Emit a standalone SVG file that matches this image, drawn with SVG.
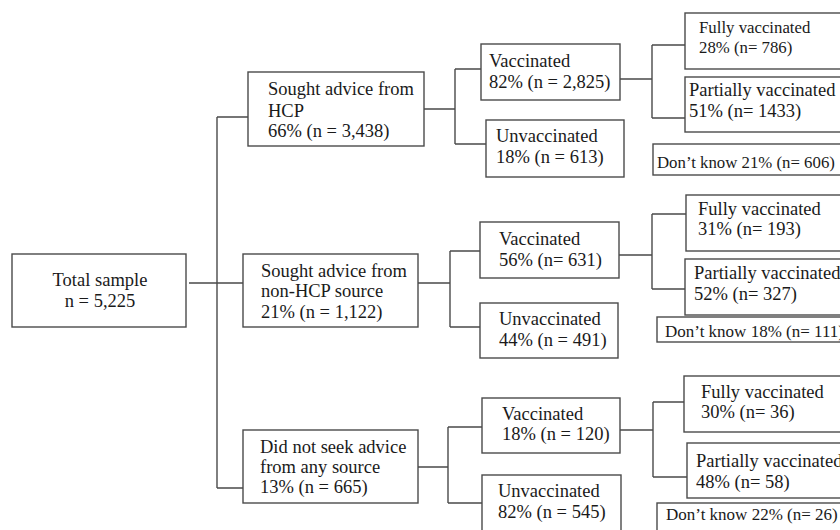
<svg xmlns="http://www.w3.org/2000/svg" width="840" height="530" viewBox="0 0 840 530">
<style>
.box{fill:#fff;stroke:#4a4a4a;stroke-width:1.4}
.ln{fill:none;stroke:#4a4a4a;stroke-width:1.4}
text{font-family:"Liberation Serif","Times New Roman",serif;font-size:18.5px;fill:#1a1a1a}
.s{font-size:16.8px}
.m{font-size:17px}
</style>
<rect width="840" height="530" fill="#fff"/>
<g id="connectors">
<path class="ln" d="M189 283H243M217 117V488M217 117H248M217 488H243"/>
<path class="ln" d="M424 109H455M455 69V144M455 69H481M455 144H486"/>
<path class="ln" d="M620 79H652M652 45V118M652 45H685M652 118H685"/>
<path class="ln" d="M418 283H450M450 251V327M450 251H480M450 327H480"/>
<path class="ln" d="M619 255H652M652 214V289M652 214H686M652 289H685"/>
<path class="ln" d="M418 467H448M448 427V503M448 427H482M448 503H482"/>
<path class="ln" d="M620 430H653M653 402V477M653 402H684M653 477H687"/>
</g>
<g id="total"><rect class="box" x="12" y="254" width="174" height="73"/><text x="100" y="286" text-anchor="middle">Total sample</text><text x="100" y="307" text-anchor="middle">n = 5,225</text></g>
<g id="hcp"><rect class="box" x="248" y="72" width="176" height="74"/><text x="268" y="95">Sought advice from</text><text x="268" y="117">HCP</text><text x="268" y="137">66% (n = 3,438)</text></g>
<g id="nonhcp"><rect class="box" x="243" y="254" width="175" height="73"/><text x="261" y="277">Sought advice from</text><text x="261" y="297">non-HCP source</text><text x="261" y="318">21% (n = 1,122)</text></g>
<g id="none"><rect class="box" x="243" y="430" width="175" height="73"/><text x="260" y="453">Did not seek advice</text><text x="260" y="473">from any source</text><text x="260" y="493">13% (n = 665)</text></g>
<g id="hcp-vacc"><rect class="box" x="481" y="44" width="139" height="56"/><text x="489" y="67">Vaccinated</text><text x="489" y="88">82% (n = 2,825)</text></g>
<g id="hcp-unvacc"><rect class="box" x="486" y="120" width="138" height="57"/><text x="496" y="142">Unvaccinated</text><text x="496" y="163">18% (n = 613)</text></g>
<g id="hcp-full"><rect class="box" x="685" y="13" width="160" height="56"/><text class="s" x="699" y="33">Fully vaccinated</text><text class="s" x="699" y="53">28% (n= 786)</text></g>
<g id="hcp-part"><rect class="box" x="685" y="77" width="160" height="55"/><text x="689" y="96">Partially vaccinated</text><text x="689" y="117">51% (n= 1433)</text></g>
<g id="hcp-dk"><rect class="box" x="653" y="144" width="192" height="31"/><text class="s" x="657" y="168">Don’t know 21% (n= 606)</text></g>
<g id="non-vacc"><rect class="box" x="480" y="222" width="139" height="56"/><text x="499" y="245">Vaccinated</text><text x="499" y="266">56% (n= 631)</text></g>
<g id="non-unvacc"><rect class="box" x="480" y="303" width="138" height="55"/><text x="499" y="325">Unvaccinated</text><text x="499" y="346">44% (n = 491)</text></g>
<g id="non-full"><rect class="box" x="686" y="195" width="160" height="56"/><text x="698" y="215">Fully vaccinated</text><text x="698" y="235">31% (n= 193)</text></g>
<g id="non-part"><rect class="box" x="685" y="259" width="160" height="56"/><text x="694" y="279">Partially vaccinated</text><text x="694" y="300">52% (n= 327)</text></g>
<g id="non-dk"><rect class="box" x="657" y="317" width="190" height="25"/><text class="m" x="665" y="337">Don’t know 18% (n= 111)</text></g>
<g id="none-vacc"><rect class="box" x="482" y="398" width="138" height="55"/><text x="502" y="420">Vaccinated</text><text x="502" y="440">18% (n = 120)</text></g>
<g id="none-unvacc"><rect class="box" x="482" y="475" width="139" height="60"/><text x="498" y="497">Unvaccinated</text><text x="498" y="518">82% (n = 545)</text></g>
<g id="none-full"><rect class="box" x="684" y="376" width="160" height="56"/><text x="701" y="398">Fully vaccinated</text><text x="701" y="418">30% (n= 36)</text></g>
<g id="none-part"><rect class="box" x="687" y="443" width="160" height="55"/><text x="696" y="467">Partially vaccinated</text><text x="696" y="488">48% (n= 58)</text></g>
<g id="none-dk"><rect class="box" x="657" y="503" width="190" height="35"/><text class="m" x="666" y="520">Don’t know 22% (n= 26)</text></g>
</svg>
